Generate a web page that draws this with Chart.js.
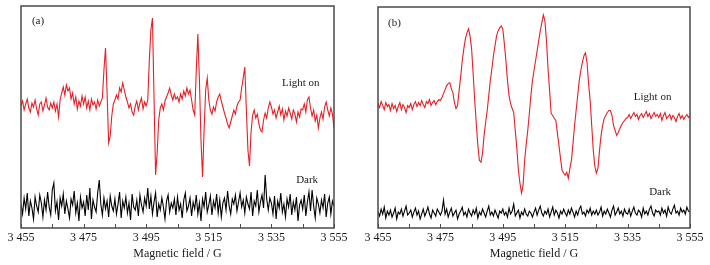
<!DOCTYPE html>
<html>
<head>
<meta charset="utf-8">
<script src="https://cdn.jsdelivr.net/npm/chart.js@4.4.1/dist/chart.umd.min.js"></script>
<style>
  html, body { margin: 0; padding: 0; background: #fff; }
  #wrap { position: relative; width: 710px; height: 265px; }
  canvas { position: absolute; top: 0; }
  #chartA { left: 0; }
  #chartB { left: 355px; }
</style>
</head>
<body>
<div id="wrap">
  <canvas id="chartA" width="355" height="265"></canvas>
  <canvas id="chartB" width="355" height="265"></canvas>
</div>
<script>
// both spectra: 3455 G to 3555 G, one reading every 0.5 G (201 readings)
var fieldStart = 3455;
var fieldEnd = 3555;
var fieldStep = 0.5;
var labelledTicks = [3455, 3475, 3495, 3515, 3535, 3555];

// (a) intensity, arbitrary units
var lightOnA = [
  122,127,118,124,129,120,116,125,121,128,119,113,124,126,117,123,130,121,118,125,
  120,126,117,124,111,128,135,141,133,143,137,140,129,135,124,131,119,127,122,132,
  124,131,120,127,118,129,123,126,119,128,122,126,130,158,180,135,85,92,112,124,
  128,133,129,140,136,145,138,131,126,120,124,116,113,122,127,118,125,130,119,126,
  122,128,168,198,210,130,53,75,108,120,124,118,127,131,135,140,133,128,134,129,
  131,126,134,129,137,132,140,134,138,128,118,113,158,194,148,88,51,98,138,150,
  128,118,114,121,117,126,131,134,127,121,115,110,104,100,106,112,118,114,122,126,
  128,140,150,161,118,78,62,96,113,118,110,114,104,98,96,108,115,110,120,126,
  121,114,118,110,116,122,113,119,108,117,112,120,115,109,118,114,106,116,111,119,
  118,124,116,128,131,120,112,118,107,113,100,110,116,109,121,126,118,112,120,114,
  100
];
var darkA = [
  24,14,30,19,35,12,27,20,9,31,22,16,33,25,11,28,18,36,21,13,
  38,45,17,26,8,30,22,34,14,27,19,10,29,23,37,15,25,7,31,20,
  26,12,33,18,40,9,28,21,16,35,48,24,13,30,19,27,11,32,22,17,
  29,14,24,36,10,27,20,31,15,25,8,34,21,18,28,12,33,23,16,30,
  22,40,19,32,14,26,35,11,24,18,30,21,9,27,33,16,25,20,29,13,
  31,18,24,10,28,35,17,22,30,12,26,19,33,14,25,7,29,21,36,16,
  23,32,13,27,20,34,15,28,11,25,30,18,37,22,14,29,24,33,17,26,
  35,21,28,15,31,24,19,36,12,27,22,38,16,26,33,20,53,29,18,30,
  25,14,32,9,27,20,35,16,24,11,29,21,34,13,26,18,31,7,23,28,
  19,33,12,26,36,17,38,22,10,30,24,15,28,20,34,11,25,31,14,27,
  22
];

// (b) intensity, arbitrary units
var lightOnB = [
  125,121,127,123,119,126,122,124,118,125,120,123,117,122,126,119,124,121,116,123,
  121,125,119,124,127,122,126,123,128,124,121,127,125,129,123,126,128,124,127,129,
  128,131,135,139,143,145,146,140,136,126,120,123,138,152,168,180,190,196,200,193,
  180,155,128,105,83,68,66,75,93,106,118,133,148,160,173,183,193,198,201,203,
  200,185,168,148,133,125,120,116,98,80,58,45,35,43,68,84,98,115,133,148,
  158,168,178,188,198,206,214,208,188,160,138,115,113,110,108,95,83,70,58,55,
  53,56,50,60,68,85,103,118,133,148,158,166,173,176,166,145,128,103,78,62,
  55,60,78,93,103,110,113,116,118,118,113,103,98,93,96,100,103,106,108,110,
  111,114,110,113,116,112,114,109,113,115,111,114,117,112,115,110,113,116,112,114,
  111,115,108,113,116,110,112,114,109,113,111,107,112,115,110,113,109,112,114,111,
  113
];
var darkB = [
  16,12,19,14,21,10,17,13,18,11,15,20,9,16,14,19,12,17,22,13,
  15,18,11,16,20,13,17,9,14,19,12,16,21,14,10,18,15,12,19,16,
  13,17,28,14,19,11,16,20,12,15,18,9,14,17,21,13,16,11,19,15,
  12,18,14,20,10,16,13,19,15,11,17,22,13,16,12,18,14,10,17,15,
  19,13,16,11,20,14,17,24,12,15,18,10,16,13,19,14,12,17,15,11,
  16,20,13,18,22,15,12,17,14,19,11,16,21,13,18,15,10,17,14,19,
  15,12,18,14,20,16,11,17,13,19,22,14,16,12,18,15,20,13,17,14,
  18,13,16,21,12,17,14,19,15,11,18,22,13,16,20,14,17,12,19,15,
  14,19,12,17,21,15,13,18,16,11,20,14,17,13,19,22,15,12,18,16,
  17,13,20,15,18,12,21,16,14,19,23,15,17,13,20,16,18,14,21,17,
  16
];

var serif = "'Liberation Serif', 'Times New Roman', serif";

function toPoints(values) {
  return values.map(function(v, i) {
    return { x: fieldStart + i * fieldStep, y: v };
  });
}

function fmtField(v) {
  var s = String(v);
  return s.charAt(0) + ' ' + s.slice(1);
}

// box around the plot, inward ticks on the field axis, text notes
var framePlugin = {
  id: 'frame',
  afterDatasetsDraw: function(chart, args, opts) {
    var a = chart.chartArea;
    var ctx = chart.ctx;
    var xs = chart.scales.x, ys = chart.scales.y;
    ctx.save();
    ctx.strokeStyle = '#4a4a4a';
    ctx.lineWidth = 1.5;
    ctx.strokeRect(a.left, a.top, a.right - a.left, a.bottom - a.top);
    ctx.lineWidth = 1;
    xs.ticks.forEach(function(t) {
      var px = Math.round(xs.getPixelForValue(t.value)) + 0.5;
      ctx.beginPath();
      ctx.moveTo(px, a.bottom);
      ctx.lineTo(px, a.bottom - 4);
      ctx.stroke();
    });
    ctx.fillStyle = '#1a1a1a';
    ctx.font = '11px ' + serif;
    ctx.textBaseline = 'middle';
    ctx.textAlign = 'left';
    (opts.notes || []).forEach(function(n) {
      ctx.fillText(n.text, xs.getPixelForValue(n.x), ys.getPixelForValue(n.y));
    });
    ctx.restore();
  }
};

function makeChart(id, lightOn, dark, pad, notes) {
  return new Chart(document.getElementById(id), {
    type: 'line',
    data: {
      datasets: [{
        label: 'Light on',
        data: toPoints(lightOn),
        borderColor: '#e81f26',
        borderWidth: 1.1,
        pointRadius: 0,
        tension: 0
      }, {
        label: 'Dark',
        data: toPoints(dark),
        borderColor: '#000000',
        borderWidth: 1.1,
        pointRadius: 0,
        tension: 0
      }]
    },
    options: {
      responsive: false,
      animation: false,
      events: [],
      layout: { padding: pad },
      scales: {
        x: {
          type: 'linear',
          min: fieldStart,
          max: fieldEnd,
          grid: { display: false, drawTicks: false },
          border: { display: false },
          ticks: {
            stepSize: 10,
            autoSkip: false,
            maxRotation: 0,
            padding: 3,
            color: '#1a1a1a',
            font: { family: serif, size: 12 },
            callback: function(v) {
              return labelledTicks.indexOf(v) >= 0 ? fmtField(v) : '';
            }
          },
          title: {
            display: true,
            text: 'Magnetic field / G',
            color: '#1a1a1a',
            font: { family: serif, size: 12 },
            padding: { top: 4, bottom: 4 }
          },
          afterFit: function(scale) { scale.height = 37; }
        },
        y: {
          display: false,
          min: 0,
          max: 222
        }
      },
      plugins: {
        legend: { display: false },
        tooltip: { enabled: false },
        frame: { notes: notes }
      }
    },
    plugins: [framePlugin]
  });
}

makeChart('chartA', lightOnA, darkA, { left: 21, right: 21, top: 6, bottom: 0 }, [
  { text: '(a)', x: 3458.5, y: 207 },
  { text: 'Light on', x: 3538.4, y: 145 },
  { text: 'Dark', x: 3542.9, y: 48 }
]);
makeChart('chartB', lightOnB, darkB, { left: 23, right: 20, top: 7, bottom: 0 }, [
  { text: '(b)', x: 3458.2, y: 206 },
  { text: 'Light on', x: 3537, y: 131 },
  { text: 'Dark', x: 3541.9, y: 36 }
]);
</script>
</body>
</html>
